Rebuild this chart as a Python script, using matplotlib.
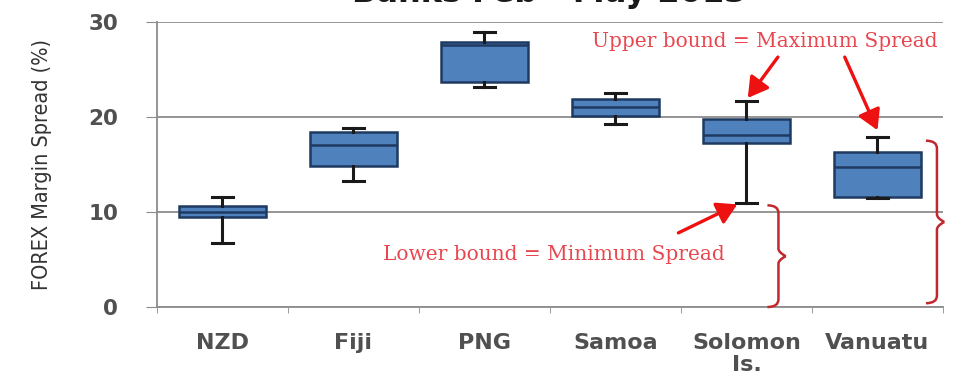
import matplotlib
matplotlib.use("Agg")
import matplotlib.pyplot as plt
from matplotlib.path import Path
from matplotlib.patches import PathPatch

categories = ["NZD", "Fiji", "PNG", "Samoa", "Solomon\nIs.", "Vanuatu"]
whisker_low = [6.7, 13.3, 23.1, 19.3, 10.9, 11.5]
box_q1 = [9.5, 14.8, 23.7, 20.1, 17.3, 11.6]
box_median = [10.0, 17.0, 27.6, 21.0, 18.1, 14.7]
box_q3 = [10.6, 18.4, 27.9, 21.9, 19.8, 16.3]
whisker_high = [11.6, 18.8, 28.9, 22.5, 21.7, 17.9]
yticks = [0, 10, 20, 30]

fig = plt.figure(figsize=(9.55, 3.78), dpi=100)
ax = fig.add_axes([0.1644, 0.1878, 0.8230, 0.7542])

stats = []
for lab, lo, q1, med, q3, hi in zip(categories, whisker_low, box_q1, box_median, box_q3, whisker_high):
    stats.append(dict(label=lab, whislo=lo, q1=q1, med=med, q3=q3, whishi=hi, fliers=[]))

positions = list(range(1, len(categories) + 1))
ax.bxp(stats, positions=positions, widths=0.66, patch_artist=True, showfliers=False,
       boxprops=dict(facecolor="#4F81BD", edgecolor="#1F3A60", linewidth=1.8),
       medianprops=dict(color="#1F3A60", linewidth=1.8),
       whiskerprops=dict(color="#1a1a1a", linewidth=2.2),
       capprops=dict(color="#1a1a1a", linewidth=2.2),
       capwidths=0.16, zorder=3)

ax.set_xlim(0.5, len(categories) + 0.5)
ax.set_ylim(0, 30)
ax.set_yticks(yticks)
ax.set_yticklabels([str(t) for t in yticks])
ax.yaxis.grid(True, color="#8c8c8c", linewidth=1.3, zorder=0)
ax.set_axisbelow(True)
for s in ["top", "right"]:
    ax.spines[s].set_visible(False)
ax.spines["left"].set_color("#8c8c8c")
ax.spines["bottom"].set_color("#8c8c8c")
ax.spines["left"].set_linewidth(1.3)
ax.spines["bottom"].set_linewidth(1.3)

ax.set_xticks(positions)
ax.set_xticklabels(categories, fontsize=16, color="#505050", fontweight="bold",
                   linespacing=1.08)
ax.set_xticks([p + 0.5 for p in [0] + positions], minor=True)
ax.tick_params(axis="x", which="major", length=0, pad=19)
ax.tick_params(axis="x", which="minor", length=4, color="#8c8c8c")
ax.tick_params(axis="y", length=8, color="#8c8c8c", labelsize=15.5, labelcolor="#505050", pad=20)
for t in ax.get_yticklabels():
    t.set_fontweight("bold")

ax.set_ylabel("FOREX Margin Spread (%)", fontsize=15.5, color="#333333",
              fontstretch="condensed", labelpad=26)

fig.text(0.575, 1 - 2 / 378, "Banks Feb - May 2013", ha="center", va="baseline",
         fontsize=23, fontweight="bold", color="#1a1a1a")

# annotations
txt_color = "#E8474F"
arrow_color = "#EE1111"
ax.text(5.14, 27.9, "Upper bound = Maximum Spread", color=txt_color, fontsize=14.5,
        family="DejaVu Serif", ha="center", va="center")
ax.text(3.53, 5.5, "Lower bound = Minimum Spread", color=txt_color, fontsize=14.5,
        family="DejaVu Serif", ha="center", va="center")

aprops = dict(arrowstyle="-|>,head_length=1.2,head_width=0.7", color=arrow_color, lw=2.4,
              shrinkA=0, shrinkB=0)
ax.annotate("", xy=(5.01, whisker_high[4] + 0.3), xytext=(5.24, 26.3), arrowprops=aprops)
ax.annotate("", xy=(6.0, whisker_high[5] + 0.7), xytext=(5.75, 26.3), arrowprops=aprops)
ax.annotate("", xy=(4.93, whisker_low[4] - 0.1), xytext=(4.48, 7.8), arrowprops=aprops)


def brace(ax, x, y0, y1, w, color):
    ym = (y0 + y1) / 2
    c = w * 0.6
    verts = [(x, y1), (x + c, y1), (x + c, y1 - 0.8), (x + c, ym + 0.8),
             (x + c, ym + 0.4), (x + w, ym), (x + w, ym),
             (x + w, ym), (x + c, ym - 0.4), (x + c, ym - 0.8),
             (x + c, y0 + 0.8), (x + c, y0), (x, y0)]
    codes = [Path.MOVETO, Path.CURVE3, Path.CURVE3, Path.LINETO,
             Path.CURVE3, Path.CURVE3, Path.LINETO,
             Path.MOVETO, Path.CURVE3, Path.CURVE3, Path.LINETO,
             Path.CURVE3, Path.CURVE3]
    ax.add_patch(PathPatch(Path(verts, codes), fill=False, edgecolor=color, lw=1.8,
                           clip_on=False, zorder=4))


brace(ax, 5.16, 0.0, whisker_low[4] - 0.2, 0.14, "#C0282D")
brace(ax, 6.37, 0.4, whisker_high[5] - 0.4, 0.14, "#C0282D")

fig.savefig("out.png", dpi=100)
